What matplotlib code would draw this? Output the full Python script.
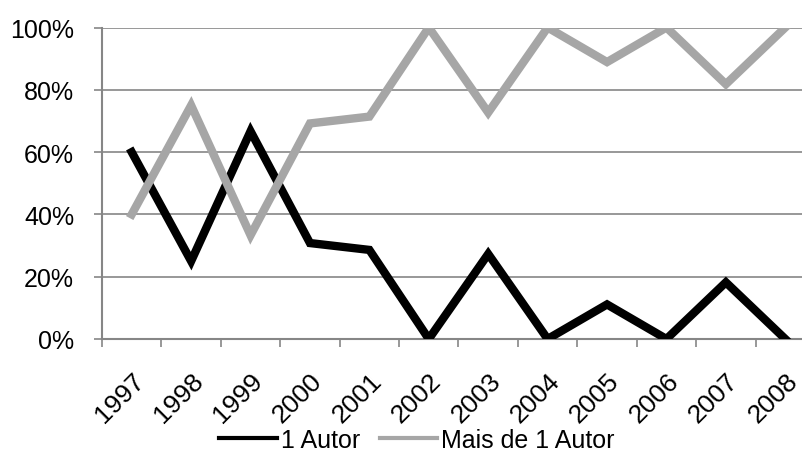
import numpy as np
import matplotlib
matplotlib.use('Agg')
import matplotlib.pyplot as plt
from matplotlib.ticker import PercentFormatter

# Data
years = ['1997', '1998', '1999', '2000', '2001', '2002',
         '2003', '2004', '2005', '2006', '2007', '2008']
um_autor = [60.0, 25.0, 66.7, 30.8, 28.6, 0.0, 27.3, 0.0, 11.1, 0.0, 18.2, 0.0]
mais_autor = [40.0, 75.0, 33.3, 69.2, 71.4, 100.0, 72.7, 100.0, 88.9, 100.0, 81.8, 100.0]

plt.rcParams['font.family'] = ['Liberation Sans', 'DejaVu Sans']
grid_col = '#868686'

W, H = 803, 452
fig = plt.figure(figsize=(W / 100, H / 100), dpi=100)
ax = fig.add_axes([102 / W, (H - 340) / H, 713 / W, 311.5 / H])

x = np.arange(len(years))
ax.plot(x, um_autor, color='black', lw=6, solid_joinstyle='miter', label='1 Autor', zorder=3)
ax.plot(x, mais_autor, color='#A6A6A6', lw=6, solid_joinstyle='miter', label='Mais de 1 Autor', zorder=3)

ax.set_xlim(-0.5, len(years) - 0.5)
ax.set_ylim(0, 100)
ax.set_yticks(np.arange(0, 101, 20))
ax.yaxis.set_major_formatter(PercentFormatter(decimals=0))
ax.grid(axis='y', color=grid_col, lw=1.2)
ax.set_axisbelow(True)

ax.set_xticks(x)
ax.set_xticklabels(years, rotation=45, ha='right', rotation_mode='anchor')
ax.set_xticks(np.arange(-0.5, len(years), 1), minor=True)
ax.tick_params(axis='x', which='major', length=0, pad=21, labelsize=19)
ax.tick_params(axis='x', which='minor', length=6, width=1.2, color=grid_col)
ax.tick_params(axis='y', length=6, width=1.2, color=grid_col, pad=14, labelsize=18)

for side in ['top', 'right']:
    ax.spines[side].set_visible(False)
for side in ['left', 'bottom']:
    ax.spines[side].set_color(grid_col)
    ax.spines[side].set_linewidth(1.5)

leg = fig.legend(loc='center', bbox_to_anchor=(417 / W, 1 - 441 / H), ncol=2,
                 frameon=False, fontsize=18, handlelength=2.3, handletextpad=0.15,
                 columnspacing=0.8, borderpad=0)
for line in leg.get_lines():
    line.set_linewidth(3)

fig.savefig('out.png', dpi=100)
